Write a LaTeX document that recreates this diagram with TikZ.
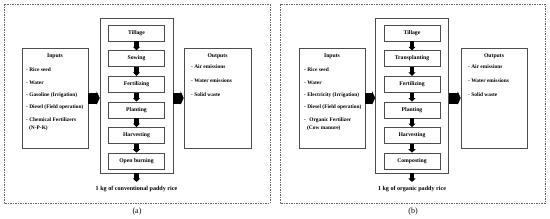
\documentclass[tikz,border=0pt]{standalone}
\usepackage{fontspec}
\setmainfont{Liberation Serif}
\usetikzlibrary{positioning,arrows.meta}
\tikzset{
  frm/.style={draw=gray!80!black,dash pattern=on 1.5pt off 1pt,line width=0.6pt},
  iobox/.style={rectangle,draw=gray!60!black,line width=0.6pt,minimum width=66pt,minimum height=100pt,inner sep=0pt},
  mbox/.style={rectangle,draw=gray!60!black,line width=0.6pt,minimum width=73pt,minimum height=155pt,inner sep=0pt},
  stg/.style={rectangle,draw=gray!60!black,line width=0.6pt,minimum width=56pt,minimum height=16pt,inner sep=0pt,font=\fontsize{5.7}{6}\selectfont\bfseries},
  ttl/.style={font=\fontsize{5.7}{6}\selectfont\bfseries,inner sep=0pt},
  lst/.style={align=left,anchor=north west,inner sep=0pt,font=\fontsize{5.4}{12.3}\selectfont\bfseries},
  sarr/.style={line width=4.2pt,-{Triangle[width=7pt,length=3.5pt]}},
  barr/.style={line width=11pt,-{Triangle[width=13pt,length=3pt]}},
  res/.style={font=\fontsize{6.1}{7}\selectfont\bfseries,inner sep=1pt},
  captxt/.style={font=\fontsize{8}{9}\selectfont,inner sep=0pt},
}
\begin{document}
\begin{tikzpicture}[x=1pt,y=-1pt,node distance=9pt]
  \useasboundingbox (0,0) rectangle (550,218);
  % (a) conventional
  \draw[frm] (4,4) rectangle (270,203);
  \node[iobox] (inpA) at (55,98) {};
  \node[ttl] (inpAt) at (55,56) {Inputs};
  \node[lst] (inpAl) at (26,68) {- Rice seed\\- Water\\- Gasoline (Irrigation)\\- Diesel (Field operation)\\- Chemical Fertilizers\\[-4.3pt]\hspace{3pt}(N-P-K)};
  \node[mbox] (midA) at (136.5,95.5) {};
  \node[stg] (a1) at (136.5,33) {Tillage};
  \node[stg,below=of a1] (a2) {Sowing};
  \node[stg,below=of a2] (a3) {Fertilizing};
  \node[stg,below=of a3] (a4) {Planting};
  \node[stg,below=of a4] (a5) {Harvesting};
  \node[stg,below=of a5] (a6) {Open burning};
  \draw[sarr] (a1) -- (a2);
  \draw[sarr] (a2) -- (a3);
  \draw[sarr] (a3) -- (a4);
  \draw[sarr] (a4) -- (a5);
  \draw[sarr] (a5) -- (a6);
  \node[iobox,minimum width=67pt] (outA) at (217.5,98) {};
  \node[ttl] (outAt) at (217.5,56) {Outputs};
  \node[lst,font=\fontsize{5.4}{13.8}\selectfont\bfseries] (outAl) at (191,65) {- Air emissions\\- Water emissions\\- Solid waste};
  \draw[barr] (inpA.east) -- (inpA.east -| midA.west);
  \draw[barr] (midA.east |- outA.west) -- (outA.west);
  \node[res] (resA) at (136.5,189) {1 kg of conventional paddy rice};
  \draw[sarr,shorten >=3pt] (midA.south) -- (resA.north);
  \node[captxt] (capA) at (137,212) {(a)};
  % (b) organic
  \begin{scope}[xshift=276pt]
  \draw[frm] (4,4) rectangle (269,203);
  \node[iobox] (inpB) at (56,98) {};
  \node[ttl] (inpBt) at (56,56) {Inputs};
  \node[lst] (inpBl) at (28,68) {- Rice seed\\- Water\\- Electricity (Irrigation)\\- Diesel (Field operation)\\-\hspace{2pt} Organic Fertilizer\\[-4.3pt]\hspace{3pt}(Cow manure)};
  \node[mbox] (midB) at (136,95.5) {};
  \node[stg] (b1) at (136,33) {Tillage};
  \node[stg,below=of b1] (b2) {Transplanting};
  \node[stg,below=of b2] (b3) {Fertilizing};
  \node[stg,below=of b3] (b4) {Planting};
  \node[stg,below=of b4] (b5) {Harvesting};
  \node[stg,below=of b5] (b6) {Composting};
  \draw[sarr] (b1) -- (b2);
  \draw[sarr] (b2) -- (b3);
  \draw[sarr] (b3) -- (b4);
  \draw[sarr] (b4) -- (b5);
  \draw[sarr] (b5) -- (b6);
  \node[iobox] (outB) at (218,98) {};
  \node[ttl] (outBt) at (218,56) {Outputs};
  \node[lst,font=\fontsize{5.4}{13.8}\selectfont\bfseries] (outBl) at (192,65) {- Air emissions\\- Water emissions\\- Solid waste};
  \draw[barr] (inpB.east) -- (inpB.east -| midB.west);
  \draw[barr] (midB.east |- outB.west) -- (outB.west);
  \node[res] (resB) at (136,189) {1 kg of organic paddy rice};
  \draw[sarr,shorten >=3pt] (midB.south) -- (resB.north);
  \node[captxt] (capB) at (137,212) {(b)};
  \end{scope}
\end{tikzpicture}
\end{document}
